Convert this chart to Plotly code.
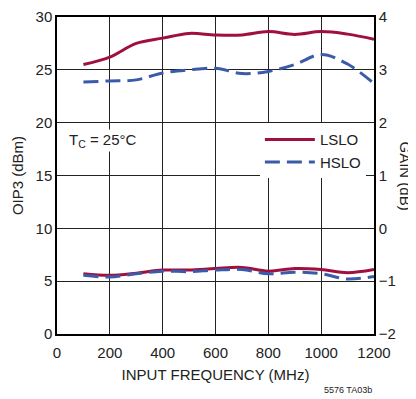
import plotly.graph_objects as go

freq = [100, 200, 300, 400, 500, 600, 700, 800, 900, 1000, 1100, 1200]
oip3_lslo = [25.5, 26.2, 27.5, 28.0, 28.45, 28.3, 28.3, 28.62, 28.35, 28.62, 28.38, 27.9]
oip3_hslo = [23.85, 23.95, 24.05, 24.7, 25.0, 25.15, 24.65, 24.85, 25.5, 26.45, 25.55, 23.7]
gain_lslo = [-0.86, -0.89, -0.85, -0.79, -0.79, -0.76, -0.74, -0.81, -0.76, -0.78, -0.84, -0.78]
gain_hslo = [-0.89, -0.92, -0.86, -0.81, -0.82, -0.79, -0.78, -0.86, -0.83, -0.86, -0.96, -0.91]
x_ticks = [0, 200, 400, 600, 800, 1000, 1200]
y_ticks = [0, 5, 10, 15, 20, 25, 30]
y2_ticks = [-2, -1, 0, 1, 2, 3, 4]

RED = "#A0103C"
BLUE = "#3B5BAA"
FONT = "Liberation Sans, Arial, sans-serif"
TXT = "#222"
DASH = "15px,7px"

fig = go.Figure()
fig.add_trace(go.Scatter(x=freq, y=oip3_lslo, mode="lines", name="LSLO", legendgroup="L",
                         line=dict(color=RED, width=3, shape="spline")))
fig.add_trace(go.Scatter(x=freq, y=oip3_hslo, mode="lines", name="HSLO", legendgroup="H",
                         line=dict(color=BLUE, width=3, shape="spline", dash=DASH)))
fig.add_trace(go.Scatter(x=freq, y=gain_lslo, mode="lines", name="LSLO", legendgroup="L", showlegend=False,
                         yaxis="y2", line=dict(color=RED, width=3, shape="spline")))
fig.add_trace(go.Scatter(x=freq, y=gain_hslo, mode="lines", name="HSLO", legendgroup="H", showlegend=False,
                         yaxis="y2", line=dict(color=BLUE, width=3, shape="spline", dash=DASH)))

axis_common = dict(showline=True, linecolor="black", linewidth=1.5, mirror=True, automargin=False,
                   ticks="", tickfont=dict(size=15, color=TXT), zeroline=False)

fig.update_layout(
    width=408, height=391,
    margin=dict(l=49, r=42, t=9, b=65),
    paper_bgcolor="white", plot_bgcolor="white",
    font=dict(family=FONT, size=15, color=TXT),
    showlegend=True,
    legend=dict(x=0.64, y=0.665, xanchor="left", yanchor="top", bgcolor="white",
                font=dict(size=15), tracegroupgap=0, itemwidth=50),
    xaxis=dict(range=[0, 1200], tickvals=x_ticks, showgrid=True, gridcolor="#222", gridwidth=1,
               ticklabelstandoff=4,
               title=dict(text="INPUT FREQUENCY (MHz)", font=dict(size=15), standoff=10),
               **axis_common),
    yaxis=dict(range=[0, 30], tickvals=y_ticks, showgrid=True, gridcolor="#222", gridwidth=1,
               title=dict(text="OIP3 (dBm)", font=dict(size=15), standoff=8), **axis_common),
    yaxis2=dict(range=[-2, 4], tickvals=y2_ticks, overlaying="y", side="right", showgrid=False,
                **axis_common),
)

fig.add_annotation(text="T<sub>C</sub> = 25°C", xref="paper", yref="paper", x=0.03, y=0.61,
                   xanchor="left", yanchor="middle", showarrow=False, bgcolor="white",
                   font=dict(size=15, color=TXT))
fig.add_annotation(text="GAIN (dB)", xref="paper", yref="paper", x=1.0, y=0.5, xshift=31,
                   xanchor="center", yanchor="middle", showarrow=False, textangle=90,
                   font=dict(size=15, color=TXT))
fig.add_annotation(text="5576 TA03b", xref="paper", yref="paper", x=1.0, y=0.0, yshift=-49,
                   xanchor="right", yanchor="top", showarrow=False,
                   font=dict(size=9, color=TXT))

fig.write_html("out.html")
